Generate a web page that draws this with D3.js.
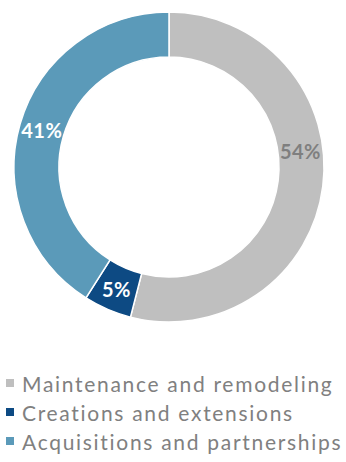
<!DOCTYPE html>
<html>
<head>
<meta charset="utf-8">
<script src="https://cdn.jsdelivr.net/npm/d3@7"></script>
<style>
  html, body { margin: 0; padding: 0; background: #fff; }
  svg { display: block; }
</style>
</head>
<body>
<svg id="chart" width="346" height="462"></svg>
<script>
// Share of investment by type
const categories = ["Maintenance and remodeling", "Creations and extensions", "Acquisitions and partnerships"];
const shares = [54, 5, 41];
const colors = ["#bfbfbf", "#0d4a83", "#5b9ab9"];
const labelColors = ["#7f7f7f", "#ffffff", "#ffffff"];

const svg = d3.select("#chart");
const cx = 169, cy = 167;
const outerR = 155, innerR = 110;

const pie = d3.pie().sort(null).value(d => d.value);
const arcs = pie(categories.map((c, i) => ({ name: c, value: shares[i], i })));
const arc = d3.arc().innerRadius(innerR).outerRadius(outerR);

const g = svg.append("g").attr("transform", `translate(${cx},${cy})`);

g.selectAll("path.slice")
  .data(arcs)
  .join("path")
  .attr("class", "slice")
  .attr("d", arc)
  .attr("fill", d => colors[d.data.i])
  .attr("stroke", "#fff")
  .attr("stroke-width", 1.5);

// The large slice's label sits higher up its band
const labelShift = [-33, 0, 0];
g.selectAll("text.val")
  .data(arcs)
  .join("text")
  .attr("class", "val")
  .attr("x", d => arc.centroid(d)[0])
  .attr("y", d => arc.centroid(d)[1] + labelShift[d.data.i])
  .attr("text-anchor", "middle")
  .attr("dominant-baseline", "central")
  .attr("font-family", "Lato, 'Open Sans', sans-serif")
  .attr("font-weight", "bold")
  .attr("font-size", 20)
  .attr("letter-spacing", 0.5)
  .attr("fill", d => labelColors[d.data.i])
  .text(d => d.data.value + "%");

// Legend
const legend = svg.append("g").attr("transform", "translate(6,383)");
const rowH = 29;
const items = legend.selectAll("g.item")
  .data(categories)
  .join("g")
  .attr("class", "item")
  .attr("transform", (d, i) => `translate(0,${i * rowH})`);

items.append("rect")
  .attr("x", 0).attr("y", -4)
  .attr("width", 8).attr("height", 8)
  .attr("fill", (d, i) => colors[i]);

items.append("text")
  .attr("x", 16)
  .attr("y", 0)
  .attr("dominant-baseline", "central")
  .attr("font-family", "Lato, 'Open Sans', sans-serif")
  .attr("font-size", 21)
  .attr("letter-spacing", 1.7)
  .attr("fill", "#808080")
  .text(d => d);
</script>
</body>
</html>
